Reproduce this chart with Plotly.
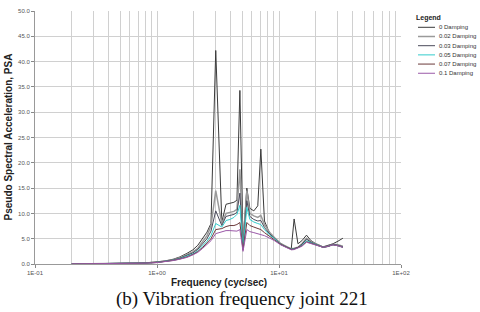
import plotly.graph_objects as go

freq = [0.2, 0.3, 0.4, 0.5, 0.56, 0.66, 0.8, 1.0, 1.17, 1.36, 1.54, 1.76, 1.97, 2.16, 2.37,
        2.57, 2.77, 3.03, 3.4, 3.68, 3.96, 4.27, 4.52, 4.78, 5.07, 5.45, 5.77, 6.22, 6.7, 7.1,
        7.6, 8.4, 9.2, 10.3, 11.6, 12.6, 13.3, 14.3, 15.4, 16.8, 18.3, 20.1, 23.0, 25.3, 27.7,
        30.4, 33.4]

psa_0 = [0.02, 0.03, 0.04, 0.06, 0.12, 0.16, 0.22, 0.4, 0.6, 0.95,
         1.4, 2.1, 2.8, 3.7, 5.0, 6.3, 8.0, 42.2, 8.3, 11.8,
         12.0, 12.2, 12.6, 34.3, 4.5, 15.0, 11.0, 10.5, 11.5, 22.7,
         8.5, 6.0, 5.2, 4.1, 3.4, 3.0, 8.9, 4.0, 4.6, 5.7,
         4.6, 4.0, 3.4, 3.7, 4.0, 4.5, 5.1]
psa_002 = [0.02, 0.03, 0.04, 0.05, 0.1, 0.14, 0.2, 0.35, 0.55, 0.85,
           1.25, 1.8, 2.4, 3.1, 4.4, 5.6, 7.5, 14.5, 8.0, 10.0,
           10.2, 10.4, 10.8, 18.7, 3.8, 14.5, 10.0, 9.5, 9.2, 9.6,
           7.8, 6.2, 5.2, 4.0, 3.4, 3.0, 3.1, 3.3, 4.0, 5.1,
           4.4, 3.9, 3.3, 3.5, 3.9, 3.8, 3.5]
psa_003 = [0.02, 0.03, 0.04, 0.05, 0.1, 0.14, 0.2, 0.33, 0.52, 0.8,
           1.15, 1.65, 2.2, 2.9, 4.0, 5.0, 6.5, 10.5, 7.6, 9.4,
           9.6, 9.8, 10.2, 14.0, 3.4, 12.5, 9.4, 8.8, 8.5, 8.6,
           7.2, 5.9, 5.1, 3.9, 3.3, 2.95, 3.0, 3.3, 3.9, 4.9,
           4.3, 3.9, 3.3, 3.5, 3.9, 3.7, 3.4]
psa_005 = [0.02, 0.03, 0.04, 0.05, 0.1, 0.13, 0.19, 0.32, 0.5, 0.75,
           1.05, 1.5, 2.0, 2.6, 3.6, 4.5, 5.6, 8.0, 7.3, 8.6,
           8.8, 9.2, 9.8, 11.6, 3.0, 11.2, 8.8, 8.3, 8.0, 7.8,
           6.8, 5.7, 5.0, 3.9, 3.3, 2.9, 3.0, 3.2, 3.7, 4.6,
           4.2, 3.8, 3.3, 3.5, 3.8, 3.6, 3.3]
psa_007 = [0.02, 0.03, 0.04, 0.05, 0.1, 0.13, 0.18, 0.3, 0.48, 0.72,
           1.0, 1.4, 1.9, 2.45, 3.3, 4.1, 5.0, 6.8, 7.0, 7.4,
           7.6, 7.6, 7.8, 8.2, 2.8, 8.2, 7.6, 7.3, 7.0, 6.8,
           6.2, 5.5, 4.8, 3.9, 3.3, 2.9, 2.95, 3.2, 3.6, 4.4,
           4.1, 3.8, 3.3, 3.5, 3.8, 3.6, 3.3]
psa_01 = [0.02, 0.03, 0.04, 0.05, 0.1, 0.12, 0.17, 0.28, 0.45, 0.68,
          0.95, 1.3, 1.8, 2.3, 3.1, 3.8, 4.6, 6.0, 6.3, 6.6,
          6.6, 6.5, 6.5, 6.8, 2.5, 6.8, 6.4, 6.2, 6.0, 5.9,
          5.6, 5.1, 4.6, 3.8, 3.2, 2.8, 2.85, 3.1, 3.5, 4.3,
          4.0, 3.8, 3.3, 3.5, 3.8, 3.6, 3.3]

series_names = ["0 Damping", "0.02 Damping", "0.03 Damping", "0.05 Damping", "0.07 Damping", "0.1 Damping"]
series_values = [psa_0, psa_002, psa_003, psa_005, psa_007, psa_01]
series_colors = ["#3a3a3a", "#9a9a9a", "#4a4a5a", "#33cccc", "#6b3a3a", "#9b59a8"]
series_widths = [1, 1.5, 1, 1, 1, 1]

x_major_vals = [0.1, 1, 10, 100]
x_major_text = ["1E-01", "1E+00", "1E+01", "1E+02"]
x_minor_vals = [m * d for d in [0.1, 1, 10] for m in range(2, 10)]
y_tick_vals = [0, 5, 10, 15, 20, 25, 30, 35, 40, 45, 50]
y_tick_text = ["0.0", "5.0", "10.0", "15.0", "20.0", "25.0", "30.0", "35.0", "40.0", "45.0", "50.0"]

fig = go.Figure()
for name, vals, col, w in zip(series_names, series_values, series_colors, series_widths):
    fig.add_trace(go.Scatter(x=freq, y=vals, mode="lines", name=name,
                             line=dict(color=col, width=w), showlegend=False))

W, H = 480, 312
L, R, T, B = 35, 401, 8, 264

def px(xp):
    return (xp - L) / (R - L)

def py(yp):
    return (B - yp) / (B - T)

fig.update_layout(
    width=W, height=H,
    margin=dict(l=L, r=W - R, t=T, b=H - B),
    paper_bgcolor="white", plot_bgcolor="white",
    font=dict(family="Liberation Sans, Arial", color="#333333"),
)
fig.update_xaxes(type="log", range=[-1, 2],
                 tickvals=x_major_vals, ticktext=x_major_text,
                 tickfont=dict(size=6, color="#555555"),
                 ticks="outside", ticklen=3, tickcolor="#888888",
                 showgrid=True, gridcolor="#d0d0d0", gridwidth=1,
                 minor=dict(tickvals=x_minor_vals, showgrid=True, gridcolor="#d0d0d0", gridwidth=1, ticks=""),
                 showline=True, linecolor="#999999", linewidth=1,
                 zeroline=False)
fig.update_yaxes(range=[0, 50], tickvals=y_tick_vals, ticktext=y_tick_text,
                 tickfont=dict(size=6, color="#555555"),
                 ticks="outside", ticklen=3, tickcolor="#888888",
                 showgrid=True, gridcolor="#d0d0d0", gridwidth=1,
                 showline=True, linecolor="#999999", linewidth=1,
                 zeroline=False)

annotations = [
    dict(text="<b>Pseudo Spectral Acceleration, PSA</b>", textangle=-90,
         x=px(8), y=py(136), xref="paper", yref="paper", showarrow=False,
         font=dict(size=10, color="#222222", family="Liberation Sans, Arial"),
         xanchor="center", yanchor="middle"),
    dict(text="<b>Frequency (cyc/sec)</b>", x=px(219), y=py(283), xref="paper", yref="paper",
         showarrow=False, font=dict(size=10, color="#222222", family="Liberation Sans, Arial"),
         xanchor="center", yanchor="middle"),
    dict(text="(b) Vibration frequency joint 221", x=px(242), y=py(299), xref="paper", yref="paper",
         showarrow=False, font=dict(size=19, color="#111111", family="Liberation Serif, Times New Roman"),
         xanchor="center", yanchor="middle"),
    dict(text="<b>Legend</b>", x=px(414), y=py(15), xref="paper", yref="paper",
         showarrow=False, font=dict(size=7, color="#222222", family="Liberation Sans, Arial"),
         xanchor="left", yanchor="middle"),
]
shapes = []
for i, (name, col, w) in enumerate(zip(series_names, series_colors, series_widths)):
    yy = 24.5 + 9.3 * i
    shapes.append(dict(type="line", xref="paper", yref="paper",
                       x0=px(418), x1=px(435), y0=py(yy), y1=py(yy),
                       line=dict(color=col, width=w)))
    annotations.append(dict(text=name, x=px(437), y=py(yy), xref="paper", yref="paper",
                            showarrow=False, align="left",
                            font=dict(size=6, color="#333333", family="Liberation Sans, Arial"),
                            xanchor="left", yanchor="middle"))
fig.update_layout(annotations=annotations, shapes=shapes)

fig.write_html("out.html", config={"displayModeBar": False},
               post_script="document.body.style.margin='0';document.body.style.overflow='hidden';")
